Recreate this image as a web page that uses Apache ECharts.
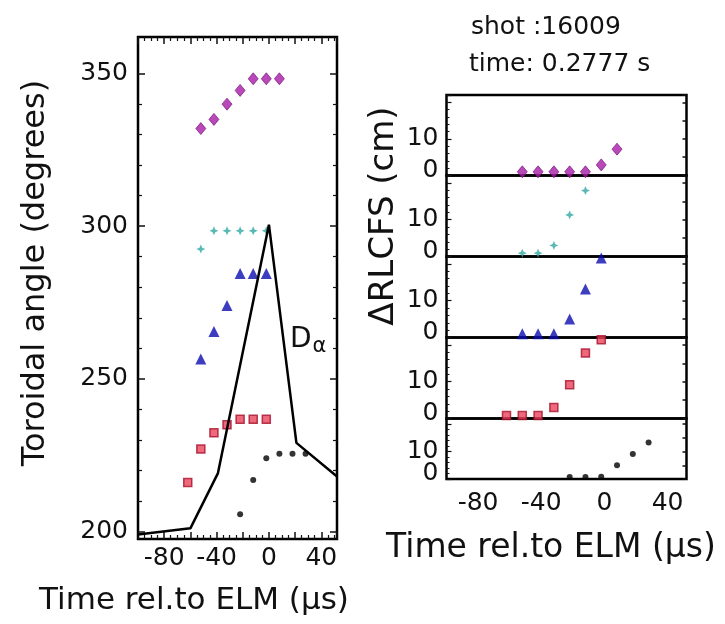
<!DOCTYPE html>
<html>
<head>
<meta charset="utf-8">
<script src="https://cdn.jsdelivr.net/npm/echarts@6/dist/echarts.min.js"></script>
<style>
  html, body { margin: 0; padding: 0; background: #fff; }
  #chart { width: 725px; height: 624px; }
</style>
</head>
<body>
<div id="chart"></div>
<script>
// Filament timing around an ELM: toroidal angle (left) and radial shift from LCFS (right)
const magentaTime  = [-52, -42, -32, -22, -12, -2, 8];
const magentaAngle = [332, 335, 340, 344.5, 348.3, 348.3, 348.3];
const magentaShift = [1, 1, 1, 1, 1, 2.9, 7.2];

const cyanTimeLeft  = [-52, -42, -32, -22, -12, -2];
const cyanAngle     = [292.5, 298.5, 298.5, 298.5, 298.5, 298.5];
const cyanTimeRight = [-52, -42, -32, -22, -12];
const cyanShift     = [0.9, 0.9, 3, 11.3, 17.9];

const blueTime  = [-52, -42, -32, -22, -12, -2];
const blueAngle = [256.5, 265.5, 274, 284.5, 284.5, 284.5];
const blueShift = [1, 1, 1, 5, 13.2, 21.6];

const redTime  = [-62, -52, -42, -32, -22, -12, -2];
const redAngle = [216, 227, 232.3, 234.9, 236.7, 236.7, 236.7];
const redShift = [0.8, 0.8, 0.8, 3, 9.2, 17.8, 21.4];

const blackTime  = [-22, -12, -2, 8, 18, 28];
const blackAngle = [205.6, 216.8, 224, 225.4, 225.4, 225.4];
const blackShift = [0.7, 0.7, 0.8, 5, 9.1, 13.3];

// D-alpha trace overlaid on the angle panel (arbitrary units)
const dalphaTime   = [-100, -60, -39, 0, 21, 52];
const dalphaSignal = [199, 201, 219, 300.5, 229, 218];

const timeTicks  = [-80, -40, 0, 40];
const angleTicks = [200, 250, 300, 350];
const shiftZero  = 0;
const shiftTen   = 10;

const FONT = 'DejaVu Sans';
const INK = '#111';

const pairs = (xs, ys) => xs.map((x, i) => [x, ys[i]]);

const markers = {
  magenta: { symbol: 'diamond', symbolSize: [10, 12], itemStyle: { color: '#a81ca8', borderColor: '#6e0a74', borderWidth: 0.8 } },
  cyan:    { symbol: 'path://M0,-1L0.3,-0.3L1,0L0.3,0.3L0,1L-0.3,0.3L-1,0L-0.3,-0.3Z', symbolSize: 9, itemStyle: { color: '#2fa8a0' } },
  blue:    { symbol: 'triangle', symbolSize: [11, 11], itemStyle: { color: '#0c0cb0' } },
  red:     { symbol: 'rect', symbolSize: 8, itemStyle: { color: '#e8445a', borderColor: '#a8102c', borderWidth: 1.5 } },
  black:   { symbol: 'circle', symbolSize: 6, itemStyle: { color: '#000' } }
};

function scatter(name, data, xi, yi, style) {
  return Object.assign({ name, type: 'scatter', data, xAxisIndex: xi, yAxisIndex: yi, z: 2, silent: true }, style);
}

const noLine = { show: false, onZero: false };
const tickStyle = { show: true, inside: true, length: 7, lineStyle: { color: INK, width: 1.5 } };
const minorStyle = (n) => ({ show: true, splitNumber: n, length: 4, lineStyle: { color: INK, width: 1.2 } });

// ---- left panel -------------------------------------------------------
const L = { left: 138, top: 37, width: 199, height: 502 };
const angleExtent = [197.5, 362];
const pxPerDeg = L.height / (angleExtent[1] - angleExtent[0]);
const yAt = v => L.top + (angleExtent[1] - v) * pxPerDeg;

const grids = [
  { left: L.left, top: L.top, width: L.width, height: L.height, show: true, borderColor: '#000', borderWidth: 2.5, backgroundColor: 'transparent' },
  { left: L.left, top: yAt(350), width: L.width, height: yAt(200) - yAt(350), show: false }
];

const timeLabel = { show: true, fontFamily: FONT, fontSize: 25, color: INK, margin: 7, hideOverlap: false,
  formatter: v => timeTicks.includes(v) ? String(v) : '' };

const xAxes = [
  { type: 'value', gridIndex: 0, position: 'bottom', min: -100, max: 52, interval: 20,
    axisLine: noLine, splitLine: { show: false }, axisTick: tickStyle, minorTick: minorStyle(4), axisLabel: timeLabel },
  { type: 'value', gridIndex: 0, position: 'top', min: -100, max: 52, interval: 20,
    axisLine: noLine, splitLine: { show: false }, axisTick: tickStyle, minorTick: minorStyle(4), axisLabel: { show: false } },
  { type: 'value', gridIndex: 1, min: -100, max: 52, show: false, axisLine: noLine }
];

const yAxes = [
  { type: 'value', gridIndex: 0, min: angleExtent[0], max: angleExtent[1], show: false, axisLine: noLine },
  { type: 'value', gridIndex: 1, position: 'left', min: 200, max: 350, interval: 50,
    axisLine: noLine, splitLine: { show: false }, axisTick: tickStyle, minorTick: minorStyle(5),
    axisLabel: { fontFamily: FONT, fontSize: 25, color: INK, margin: 10, hideOverlap: false,
      formatter: v => angleTicks.includes(v) ? String(v) : '' } },
  { type: 'value', gridIndex: 1, position: 'right', min: 200, max: 350, interval: 50,
    axisLine: noLine, splitLine: { show: false }, axisTick: tickStyle, minorTick: minorStyle(5), axisLabel: { show: false } }
];

const series = [
  scatter('magenta', pairs(magentaTime, magentaAngle), 0, 0, markers.magenta),
  scatter('cyan', pairs(cyanTimeLeft, cyanAngle), 0, 0, markers.cyan),
  scatter('blue', pairs(blueTime, blueAngle), 0, 0, markers.blue),
  scatter('red', pairs(redTime, redAngle), 0, 0, markers.red),
  scatter('black', pairs(blackTime, blackAngle), 0, 0, markers.black),
  { name: 'D-alpha', type: 'line', data: pairs(dalphaTime, dalphaSignal), xAxisIndex: 0, yAxisIndex: 0,
    showSymbol: false, symbol: 'none', z: 3, silent: true, lineStyle: { color: '#000', width: 2.5 } }
];

// ---- right panel: five stacked strips --------------------------------
const R = { left: 446.5, width: 240 };
const strips = [
  { top: 95,    height: 80.5, key: 'magenta', t: magentaTime,   v: magentaShift },
  { top: 175.5, height: 81,   key: 'cyan',    t: cyanTimeRight, v: cyanShift },
  { top: 256.5, height: 81,   key: 'blue',    t: blueTime,      v: blueShift },
  { top: 337.5, height: 81,   key: 'red',     t: redTime,       v: redShift },
  { top: 418.5, height: 60.5, key: 'black',   t: blackTime,     v: blackShift }
];
const shiftExtent = [0, 22];

strips.forEach((s, k) => {
  const gi = grids.length;
  grids.push({ left: R.left, top: s.top, width: R.width, height: s.height, show: true,
    borderColor: '#000', borderWidth: 2.5, backgroundColor: 'transparent' });
  const last = k === strips.length - 1;
  const xi = xAxes.length;
  xAxes.push({ type: 'value', gridIndex: gi, position: 'bottom', min: -100, max: 52, interval: 20,
    axisLine: noLine, splitLine: { show: false }, axisTick: { show: false },
    axisLabel: last ? Object.assign({}, timeLabel, { margin: 12 }) : { show: false } });
  const yi = yAxes.length;
  // left axis: ticks plus the zero label, lifted just above the strip boundary
  yAxes.push({ type: 'value', gridIndex: gi, position: 'left', min: shiftExtent[0], max: shiftExtent[1], interval: 10,
    axisLine: noLine, splitLine: { show: false },
    axisTick: { show: true, inside: true, length: 5, lineStyle: { color: INK, width: 1.2 } },
    minorTick: { show: true, splitNumber: 5, length: 3, lineStyle: { color: INK, width: 1 } },
    axisLabel: { fontFamily: FONT, fontSize: 25, color: INK, margin: 8,
      showMinLabel: true, showMaxLabel: false, hideOverlap: false,
      formatter: v => v === shiftZero ? '{z|0}' : '',
      rich: { z: { fontFamily: FONT, fontSize: 25, color: INK, padding: [0, 0, 11, 0] } } } });
  // right axis: ticks only
  yAxes.push({ type: 'value', gridIndex: gi, position: 'right', min: shiftExtent[0], max: shiftExtent[1], interval: 5,
    axisLine: noLine, splitLine: { show: false },
    axisTick: { show: true, inside: true, length: 4, lineStyle: { color: INK, width: 1.5 } },
    axisLabel: { show: false } });
  // second left axis carrying the "10" label
  yAxes.push({ type: 'value', gridIndex: gi, position: 'left', min: shiftExtent[0], max: shiftExtent[1], interval: 10,
    axisLine: noLine, splitLine: { show: false }, axisTick: { show: false },
    axisLabel: { fontFamily: FONT, fontSize: 25, color: INK, margin: 8,
      showMinLabel: false, showMaxLabel: false, hideOverlap: false,
      formatter: v => v === shiftTen ? String(v) : '' } });
  series.push(scatter(s.key + '-shift', pairs(s.t, s.v), xi, yi, markers[s.key]));
});

// ---- text ---------------------------------------------------------------
function label(text, x, y, size, opts) {
  return Object.assign({ type: 'text', x, y, silent: true,
    style: Object.assign({ text, fontFamily: FONT, fontSize: size, fill: INK,
      textAlign: 'center', textVerticalAlign: 'middle', align: 'center', verticalAlign: 'middle' }, (opts && opts.style) || {}) },
    (opts && opts.el) || {});
}

const graphic = [
  label('Toroidal angle (degrees)', 36, 273, 32, { el: { rotation: Math.PI / 2 } }),
  label('Time rel.to ELM (\u03bcs)', 194, 601, 31),
  label('Time rel.to ELM (\u03bcs)', 551, 548, 33),
  label('\u0394RLCFS (cm)', 384, 216, 34, { el: { rotation: Math.PI / 2 } }),
  label('shot :16009', 471, 27, 25, { style: { textAlign: 'left', align: 'left' } }),
  label('time: 0.2777 s', 469, 64, 25, { style: { textAlign: 'left', align: 'left' } }),
  label('D{a|\u03b1}', 290, 340, 28, { style: { textAlign: 'left', align: 'left',
    rich: { a: { fontFamily: FONT, fontSize: 21, fill: INK, color: INK, padding: [14, 0, 0, 1] } } } })
];

const chart = echarts.init(document.getElementById('chart'), null, { renderer: 'canvas', width: 725, height: 624 });
chart.setOption({
  animation: false,
  backgroundColor: '#fff',
  grid: grids,
  xAxis: xAxes,
  yAxis: yAxes,
  series,
  graphic
});
</script>
</body>
</html>
